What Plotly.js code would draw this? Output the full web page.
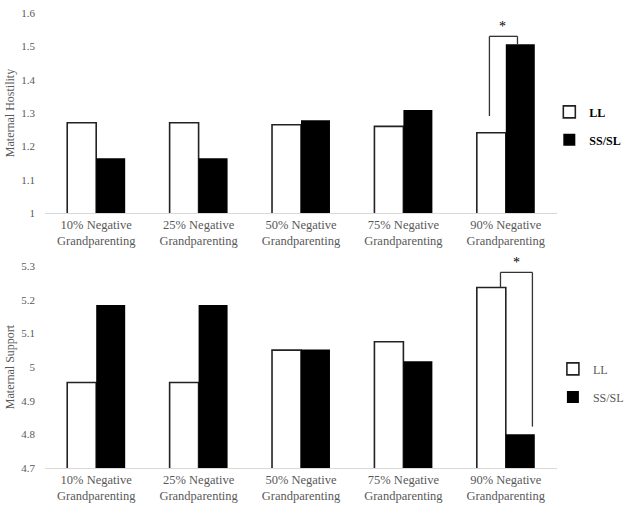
<!DOCTYPE html>
<html><head><meta charset="utf-8">
<script src="https://cdn.plot.ly/plotly-3.0.1.min.js"></script>
<style>html,body{margin:0;padding:0;background:#fff}#chart{width:629px;height:509px}</style>
</head><body><div id="chart"></div>
<script>
const categories = ["10% Negative<br>Grandparenting","25% Negative<br>Grandparenting","50% Negative<br>Grandparenting","75% Negative<br>Grandparenting","90% Negative<br>Grandparenting"];
const hostilityLL = [1.271, 1.271, 1.265, 1.260, 1.241];
const hostilitySS = [1.164, 1.164, 1.278, 1.309, 1.506];
const supportLL = [4.954, 4.954, 5.050, 5.075, 5.236];
const supportSS = [5.184, 5.184, 5.052, 5.017, 4.800];
const seriesNames = ["LL", "SS/SL"];
const sigIndex = 4;

const serif = "Liberation Serif";
const gray = "#595959";
const xs = categories.map((c,i)=>i);

const traces = [
  {type:'bar', x:xs, y:hostilityLL, name:seriesNames[0], xaxis:'x', yaxis:'y', legend:'legend', legendgroup:'a',
   marker:{color:'#ffffff', line:{color:'#222', width:1.6}}},
  {type:'bar', x:xs, y:hostilitySS, name:seriesNames[1], xaxis:'x', yaxis:'y', legend:'legend', legendgroup:'b',
   marker:{color:'#000000', line:{color:'#000', width:0}}},
  {type:'bar', x:xs, y:supportLL, name:seriesNames[0], xaxis:'x2', yaxis:'y2', legend:'legend2', legendgroup:'c',
   marker:{color:'#ffffff', line:{color:'#222', width:1.6}}},
  {type:'bar', x:xs, y:supportSS, name:seriesNames[1], xaxis:'x2', yaxis:'y2', legend:'legend2', legendgroup:'d',
   marker:{color:'#000000', line:{color:'#000', width:0}}}
];

const i = sigIndex;
const hTop = 1.53, hLeftBottom = hostilityLL[i] + 0.05;
const sTop = 5.281;
const line = {color:'#333', width:1.3};
const shapes = [
  {type:'line', xref:'x', yref:'y', x0:i-0.16, x1:i-0.16, y0:hLeftBottom, y1:hTop, line},
  {type:'line', xref:'x', yref:'y', x0:i-0.16, x1:i+0.114, y0:hTop, y1:hTop, line},
  {type:'line', xref:'x', yref:'y', x0:i+0.114, x1:i+0.114, y0:hTop, y1:hostilitySS[i], line},
  {type:'line', xref:'x2', yref:'y2', x0:i-0.052, x1:i-0.052, y0:supportLL[i], y1:sTop, line},
  {type:'line', xref:'x2', yref:'y2', x0:i-0.052, x1:i+0.26, y0:sTop, y1:sTop, line},
  {type:'line', xref:'x2', yref:'y2', x0:i+0.26, x1:i+0.26, y0:sTop, y1:supportSS[i]+0.023, line}
];
const annotations = [
  {xref:'x', yref:'y', x:i-0.03, y:hTop, text:'*', showarrow:false, yanchor:'bottom', font:{family:serif, size:14, color:'#000000'}},
  {xref:'x2', yref:'y2', x:i+0.10, y:sTop, text:'*', showarrow:false, yanchor:'bottom', font:{family:serif, size:14, color:'#000000'}}
];

const xaxisBase = {type:'linear', tickmode:'array', tickvals:xs, ticktext:categories, range:[-0.5,4.5],
  showline:true, linecolor:'#d9d9d9', linewidth:1, showgrid:false, zeroline:false, ticks:'',
  tickfont:{family:serif, size:12.5, color:gray}};
const yaxisBase = {showgrid:false, zeroline:false, showline:false, ticks:'', dtick:0.1,
  tickfont:{family:serif, size:11, color:gray}, ticklabelstandoff:9};

const layout = {
  width:629, height:509,
  margin:{l:45, r:72, t:13, b:41, autoexpand:false},
  paper_bgcolor:'#fff', plot_bgcolor:'#fff',
  barmode:'group', bargap:0.434, bargroupgap:0,
  font:{family:serif, color:gray},
  xaxis:Object.assign({}, xaxisBase, {anchor:'y', domain:[0,1]}),
  yaxis:Object.assign({}, yaxisBase, {domain:[0.5604,1], range:[1,1.6], anchor:'x',
    title:{text:'Maternal Hostility', font:{family:serif, size:12, color:gray}, standoff:4}}),
  xaxis2:Object.assign({}, xaxisBase, {anchor:'y2', domain:[0,1]}),
  yaxis2:Object.assign({}, yaxisBase, {domain:[0,0.444], range:[4.7,5.3], anchor:'x2',
    title:{text:'Maternal Support', font:{family:serif, size:12, color:gray}, standoff:4}}),
  legend:{x:0.985, y:0.752, xanchor:'left', yanchor:'middle', tracegroupgap:9, itemwidth:30,
    font:{family:serif, size:12, color:'#000', weight:'bold'}, bgcolor:'rgba(0,0,0,0)'},
  legend2:{x:0.992, y:0.187, xanchor:'left', yanchor:'middle', tracegroupgap:9, itemwidth:30,
    font:{family:serif, size:12, color:gray}, bgcolor:'rgba(0,0,0,0)'},
  shapes, annotations
};

Plotly.newPlot('chart', traces, layout, {displayModeBar:false, staticPlot:true});
</script></body></html>
